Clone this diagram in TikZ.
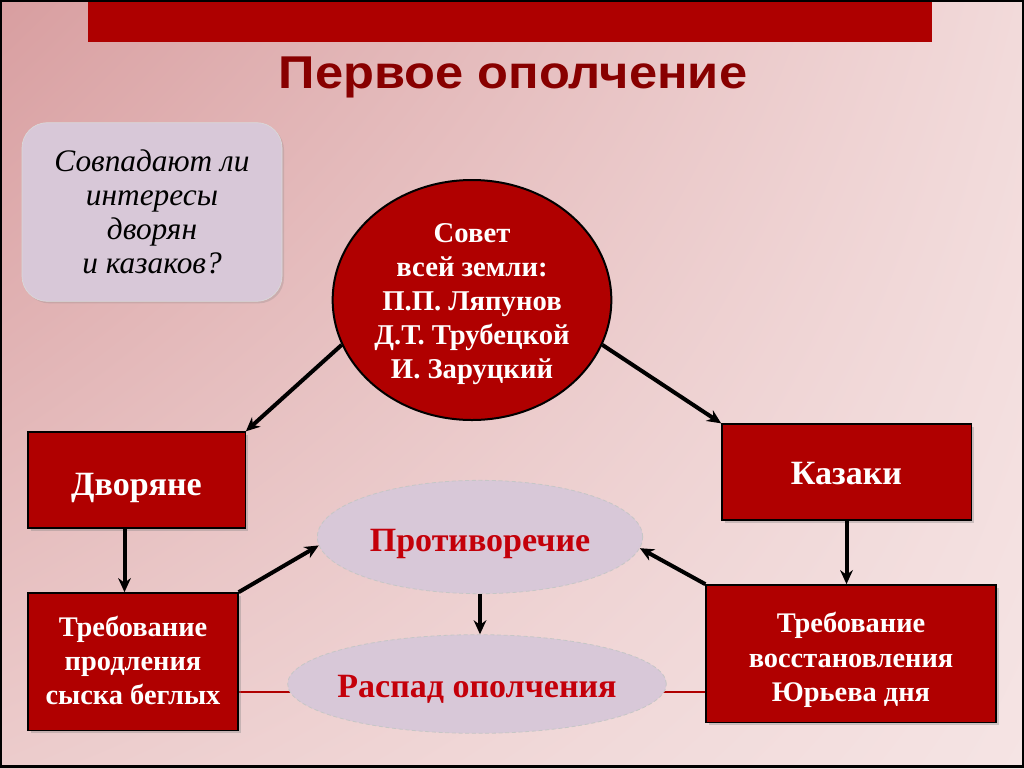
\documentclass[tikz,border=0pt]{standalone}
\usepackage{fontspec}
\setmainfont{Liberation Serif}
\newfontfamily\titlefont[FakeStretch=1.1]{Liberation Sans}
\usetikzlibrary{shapes.geometric,shadows,backgrounds,shadings,arrows.meta}
\definecolor{boxred}{RGB}{176,0,0}
\definecolor{barred}{RGB}{174,0,0}
\definecolor{titlered}{RGB}{136,0,0}
\definecolor{txtred}{RGB}{196,0,10}
\definecolor{lav}{RGB}{216,200,216}
\definecolor{bgA}{RGB}{216,158,160}
\definecolor{bgB}{RGB}{242,218,218}
\definecolor{bgC}{RGB}{236,204,204}
\definecolor{bgD}{RGB}{245,228,228}
\newcommand\lowtext[2]{\raisebox{-#1}[\height][\depth]{\begin{tabular}{@{}c@{}}#2\end{tabular}}}
\begin{document}
\begin{tikzpicture}[x=0.75pt,y=-0.75pt,
  redbox/.style={draw=black,line width=1pt,fill=boxred,text=white,
    inner sep=0pt,drop shadow={shadow xshift=2pt,shadow yshift=-2pt,opacity=0.35}},
  sovetnode/.style={ellipse,draw=black,line width=1.5pt,fill=boxred,text=white,
    inner sep=0pt,font=\bfseries\fontsize{21.5}{25.5}\selectfont},
  lavell/.style={ellipse,draw=gray!45,densely dashed,line width=0.6pt,fill=lav,text=txtred,
    inner sep=0pt,font=\bfseries\fontsize{25.5}{28}\selectfont},
  arr/.style={-{Stealth[length=10.5pt,width=9.5pt]},line width=3pt,black},
  headfont/.style={font=\bfseries\fontsize{25.5}{29}\selectfont},
  bodyfont/.style={font=\bfseries\fontsize{21.3}{25.7}\selectfont}
]
\useasboundingbox (0,0) rectangle (1024,768);
\begin{scope}[on background layer]
\shade[upper left=bgA,upper right=bgB,lower left=bgC,lower right=bgD] (0,0) rectangle (1024,768);
\end{scope}
\fill[barred] (88,0) rectangle (932,42);
\node[text=titlered,anchor=base,inner sep=0pt,font=\titlefont\bfseries\fontsize{34.5}{38}\selectfont] (title) at (513,88) {Первое ополчение};

\node[rounded corners=19pt,fill=lav,draw=white!70!gray,line width=0.5pt,minimum width=195pt,minimum height=134pt,
  align=center,inner sep=0pt,font=\itshape\fontsize{23.5}{25.5}\selectfont,
  drop shadow={shadow xshift=1.5pt,shadow yshift=-1.5pt,opacity=0.25}] (q) at (152,212)
  {Совпадают ли\\интересы\\дворян\\и казаков?};

\node[sovetnode,minimum width=209pt,minimum height=180pt,inner ysep=-6pt] (sovet) at (472,300)
  {\lowtext{3pt}{Совет\\всей земли:\\П.П. Ляпунов\\Д.Т. Трубецкой\\И. Заруцкий}};

\node[redbox,headfont,minimum width=163pt,minimum height=72pt] (dvor) at (136.5,480) {\lowtext{6pt}{Дворяне}};
\node[redbox,headfont,minimum width=187pt,minimum height=72pt] (kaz) at (846.5,472) {\lowtext{3.5pt}{Казаки}};
\node[redbox,bodyfont,minimum width=157.5pt,minimum height=103pt] (t1) at (133,661.5)
  {\lowtext{1.5pt}{Требование\\продления\\сыска беглых}};
\node[redbox,bodyfont,minimum width=217.5pt,minimum height=103pt] (t2) at (851,653.5)
  {\lowtext{5pt}{Требование\\восстановления\\Юрьева дня}};

\node[lavell,minimum width=244pt,minimum height=85pt,inner xsep=-6pt] (protiv) at (480,537) {\lowtext{5pt}{Противоречие}};
\node[lavell,minimum width=284pt,minimum height=74pt,inner xsep=-6pt] (raspad) at (477,684) {\lowtext{4.5pt}{Распад ополчения}};

\begin{scope}[on background layer]
\coordinate (ry) at (477,692);
\draw[boxred,line width=1.5pt] (t1.east |- ry) -- (t2.west |- ry);
\end{scope}

\draw[arr] (sovet.199) -- (dvor.north east);
\draw[arr] (sovet.341) -- (kaz.north west);
\draw[arr] ([xshift=-9pt]dvor.south) -- ([xshift=-9pt]dvor.south |- t1.north);
\draw[arr] (kaz.south) -- (kaz.south |- t2.north);
\draw[arr] (t1.north east) -- (protiv.183.5);
\draw[arr] (t2.north west) -- (protiv.356.5);
\draw[arr] (protiv.south) -- (protiv.south |- raspad.north);

\draw[black,line width=2.2pt] (0.75,0.75) rectangle (1023,766.5);
\end{tikzpicture}
\end{document}
